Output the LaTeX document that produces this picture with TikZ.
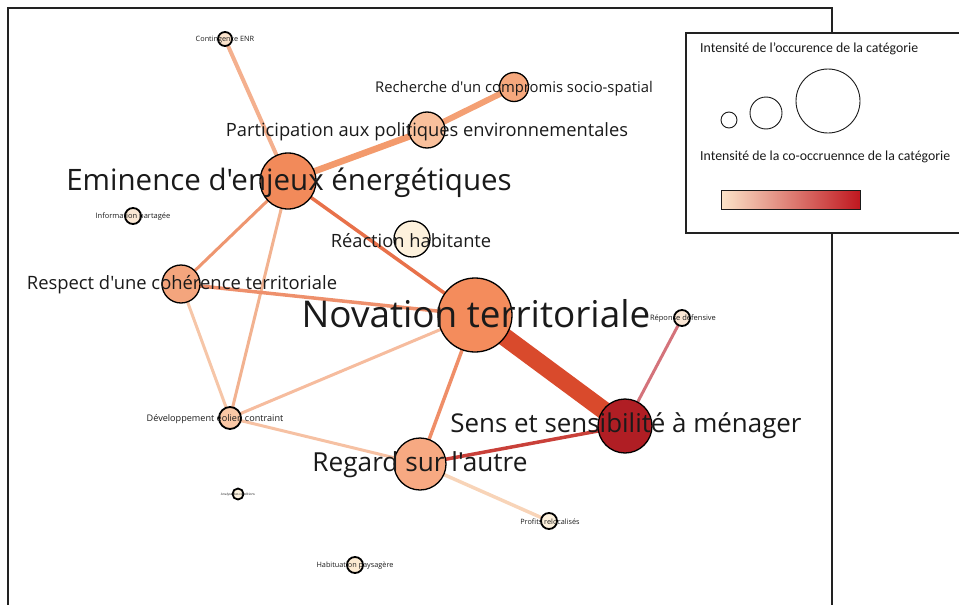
\documentclass[tikz,border=0pt]{standalone}
\usepackage{fontspec}
\setmainfont{Carlito}
\newfontfamily\labelfont{Open Sans}
\usepackage{xcolor}
\usetikzlibrary{backgrounds}
\definecolor{ink}{HTML}{1A1A1A}
\definecolor{frame}{HTML}{222222}
\definecolor{cream}{HTML}{FDF1DC}
\definecolor{peach}{HTML}{FBE3CC}
\definecolor{apricot}{HTML}{FAC8A6}
\definecolor{salmon}{HTML}{F6A87D}
\definecolor{coral}{HTML}{F28A5A}
\definecolor{crimson}{HTML}{B01E24}
\definecolor{barlow}{HTML}{FBE3C8}
\definecolor{barhigh}{HTML}{C0171F}
\newcommand{\fsz}[1]{\labelfont\fontsize{#1}{#1}\selectfont}
\tikzset{
  cat/.style={circle, draw=black, line width=1.3pt, inner sep=0pt},
  minor/.style={cat, line width=1.8pt, minimum size=15pt, fill=cream},
  catlabel/.style={text=ink, inner sep=0pt},
  tinylabel/.style={catlabel, font=\fsz{7.3}},
  link/.style={line cap=round},
  legendtext/.style={text=ink, anchor=west, inner sep=0pt, font=\fontsize{13.8}{13.8}\selectfont}
}

\begin{document}
\begin{tikzpicture}[x=1pt,y=-1pt]
    \useasboundingbox (0,0) rectangle (959,605);
    % Frame, open at the bottom
    \draw[frame, line width=1.8pt] (8,606) -- (8,8) -- (832,8) -- (832,606);

    % Categories
    \node[minor, minimum size=14pt, fill=peach] (contingence) at (225,39) {};
    \node[cat, minimum size=29pt, fill=salmon] (recherche) at (514,87) {};
    \node[cat, minimum size=36pt, fill={rgb,255:red,249;green,192;blue,156}] (participation) at (427,130) {};
    \node[cat, minimum size=56pt, fill=coral] (eminence) at (288,181) {};
    \node[minor, minimum size=16pt, fill={rgb,255:red,251;green,232;blue,212}] (information) at (133,216) {};
    \node[cat, minimum size=36pt, fill=cream] (reaction) at (412,239) {};
    \node[cat, minimum size=38pt, fill={rgb,255:red,244;green,165;blue,125}] (respect) at (181,284) {};
    \node[cat, minimum size=74pt, fill={rgb,255:red,244;green,140;blue,92}] (novation) at (475,315) {};
    \node[minor, minimum size=16pt, fill={rgb,255:red,251;green,231;blue,213}] (reponse) at (682,318) {};
    \node[minor, minimum size=22pt, fill=apricot] (developpement) at (230,418) {};
    \node[cat, minimum size=54pt, fill=crimson] (sens) at (625,426) {};
    \node[cat, minimum size=52pt, fill={rgb,255:red,247;green,169;blue,130}] (regard) at (420,464) {};
    \node[minor, minimum size=11pt, fill={rgb,255:red,253;green,243;blue,224}] (analyse) at (238,494) {};
    \node[minor, minimum size=16pt, fill={rgb,255:red,252;green,240;blue,220}] (profits) at (549,521) {};
    \node[minor, minimum size=16pt, fill={rgb,255:red,252;green,235;blue,210}] (habituation) at (355,565) {};

    % Co-occurrences
    \begin{scope}[on background layer]
      \draw[link, draw={rgb,255:red,244;green,176;blue,142}, line width=4pt] (contingence.center) -- (eminence.center);
      \draw[link, draw={rgb,255:red,243;green,154;blue,108}, line width=6.5pt] (eminence.center) -- (participation.center);
      \draw[link, draw={rgb,255:red,244;green,160;blue,116}, line width=6pt] (participation.center) -- (recherche.center);
      \draw[link, draw={rgb,255:red,232;green,113;blue,74}, line width=3.5pt] (eminence.center) -- (novation.center);
      \draw[link, draw={rgb,255:red,238;green,150;blue,112}, line width=3pt] (eminence.center) -- (respect.center);
      \draw[link, draw={rgb,255:red,242;green,178;blue,144}, line width=3pt] (eminence.center) -- (developpement.center);
      \draw[link, draw={rgb,255:red,238;green,144;blue,108}, line width=3.5pt] (respect.center) -- (novation.center);
      \draw[link, draw={rgb,255:red,246;green,198;blue,168}, line width=3pt] (respect.center) -- (developpement.center);
      \draw[link, draw={rgb,255:red,246;green,188;blue,158}, line width=3pt] (novation.center) -- (developpement.center);
      \draw[link, draw={rgb,255:red,239;green,142;blue,104}, line width=3.5pt] (novation.center) -- (regard.center);
      \draw[draw={rgb,255:red,217;green,74;blue,44}, line width=18pt] (novation.center) -- (sens.center);
      \draw[link, draw={rgb,255:red,212;green,115;blue,123}, line width=3pt] (sens.center) -- (reponse.center);
      \draw[link, draw={rgb,255:red,201;green,64;blue,57}, line width=3.5pt] (sens.center) -- (regard.center);
      \draw[link, draw={rgb,255:red,248;green,212;blue,184}, line width=3.5pt] (regard.center) -- (profits.center);
      \draw[link, draw={rgb,255:red,246;green,193;blue,163}, line width=3pt] (developpement.center) -- (regard.center);
    \end{scope}

    % Labels
    \node[tinylabel] (contingence-t) at (225,40) {Contingence ENR};
    \node[catlabel, font=\fsz{14.8}] (recherche-t) at (514,89) {Recherche d'un compromis socio-spatial};
    \node[catlabel, font=\fsz{18.3}] (participation-t) at (427,132) {Participation aux politiques environnementales};
    \node[catlabel, font=\fsz{29.5}] (eminence-t) at (289,183) {Eminence d'enjeux énergétiques};
    \node[tinylabel, font=\fsz{7.5}] (information-t) at (133,217) {Information partagée};
    \node[catlabel, font=\fsz{18.3}] (reaction-t) at (411,241) {Réaction habitante};
    \node[catlabel, font=\fsz{18.4}] (respect-t) at (182,285) {Respect d'une cohérence territoriale};
    \node[catlabel, font=\fsz{36.9}] (novation-t) at (476,314) {Novation territoriale};
    \node[tinylabel, font=\fsz{7.5}] (reponse-t) at (683,319) {Réponse défensive};
    \node[catlabel, font=\fsz{9.1}] (developpement-t) at (215,419) {Développement éolien contraint};
    \node[catlabel, font=\fsz{25.9}] (sens-t) at (626,426) {Sens et sensibilité à ménager};
    \node[catlabel, font=\fsz{26.2}] (regard-t) at (420,465) {Regard sur l'autre};
    \node[catlabel, font=\fsz{3.2}] (analyse-t) at (238,495) {Analyse des conditions};
    \node[tinylabel] (profits-t) at (550,522) {Profits relocalisés};
    \node[tinylabel] (habituation-t) at (355,566) {Habituation paysagère};

    % Legend
    \draw[frame, fill=white, line width=1.2pt] (686,33) rectangle (975,233);
    \node[legendtext] (occ-title) at (700,49) {Intensité de l’occurence de la catégorie};
    \node[circle, draw=ink, line width=0.9pt, minimum size=16pt, inner sep=0pt] (occ-small) at (729,120) {};
    \node[circle, draw=ink, line width=0.9pt, minimum size=32pt, inner sep=0pt] (occ-mid) at (766,113) {};
    \node[circle, draw=ink, line width=0.9pt, minimum size=64pt, inner sep=0pt] (occ-large) at (828,101) {};
    \node[legendtext] (cooc-title) at (700,157) {Intensité de la co-occruennce de la catégorie};
    \node[draw=ink, line width=0.9pt, left color=barlow, right color=barhigh,
          minimum width=139pt, minimum height=19pt, inner sep=0pt, anchor=west] (cooc-bar) at (721,199.5) {};
\end{tikzpicture}
\end{document}
